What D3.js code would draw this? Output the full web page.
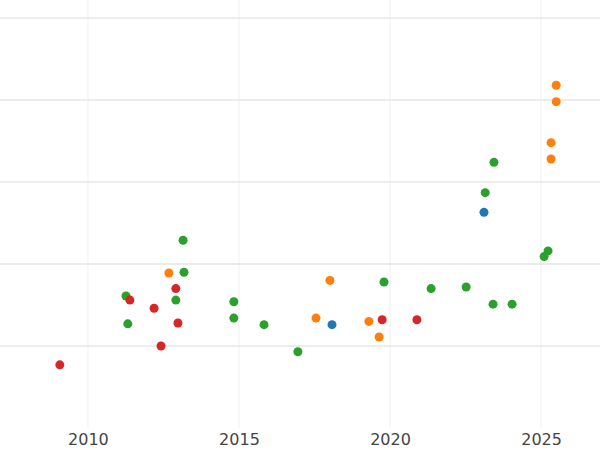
<!DOCTYPE html>
<html><head><meta charset="utf-8">
<script src="https://cdn.jsdelivr.net/npm/d3@7"></script>
<style>body{margin:0;background:#fff}</style>
</head><body>
<div id="chart"></div>
<script>
var groups = ["blue", "orange", "green", "red"];
var colors = ["#1f77b4", "#ff7f0e", "#2ca02c", "#d62728"];

var redYears = [2009.07, 2011.39, 2012.19, 2012.42, 2012.91, 2012.98, 2019.74, 2020.89];
var redValues = [0.77, 1.56, 1.46, 1.0, 1.70, 1.28, 1.32, 1.32];
var greenYears = [2011.26, 2011.32, 2012.91, 2013.15, 2013.18, 2014.83, 2014.83, 2015.83, 2016.95, 2019.80, 2021.36, 2022.52, 2023.15, 2023.41, 2023.44, 2024.04, 2025.10, 2025.23];
var greenValues = [1.61, 1.27, 1.56, 2.29, 1.90, 1.54, 1.34, 1.26, 0.93, 1.78, 1.70, 1.72, 2.87, 1.51, 3.24, 1.51, 2.09, 2.16];
var orangeYears = [2012.68, 2017.55, 2018.01, 2019.30, 2019.64, 2025.33, 2025.33, 2025.50, 2025.50];
var orangeValues = [1.89, 1.34, 1.80, 1.30, 1.11, 3.48, 3.28, 4.18, 3.98];
var blueYears = [2018.08, 2023.11];
var blueValues = [1.26, 2.63];

var xTicks = [2010, 2015, 2020, 2025];
var yTicks = [1, 2, 3, 4, 5];

var width = 600, height = 450;
var svg = d3.select("#chart").append("svg")
    .attr("width", width)
    .attr("height", height);

var x = d3.scaleLinear().domain([2007.09, 2026.95]).range([0, 600]);
var y = d3.scaleLinear().domain([0, 5]).range([428, 18]);

// gridlines
svg.selectAll(".vgrid").data(xTicks).enter().append("line")
    .attr("x1", function(d) { return x(d); })
    .attr("x2", function(d) { return x(d); })
    .attr("y1", 0).attr("y2", 428)
    .attr("stroke", "#f0f0f0").attr("stroke-width", 1);
svg.selectAll(".hgrid").data(yTicks).enter().append("line")
    .attr("x1", 0).attr("x2", width)
    .attr("y1", function(d) { return y(d); })
    .attr("y2", function(d) { return y(d); })
    .attr("stroke", "#e6e6e6").attr("stroke-width", 1.5);

// x axis
var xAxis = d3.axisBottom(x).tickValues(xTicks).tickFormat(d3.format("d")).tickSize(0).tickPadding(6);
var gx = svg.append("g").attr("transform", "translate(0,428)").call(xAxis);
gx.select(".domain").remove();
gx.selectAll("text").attr("fill", "#444").style("font-size", "16px").style("font-family", "DejaVu Sans, sans-serif");

var seriesYears = [blueYears, orangeYears, greenYears, redYears];
var seriesValues = [blueValues, orangeValues, greenValues, redValues];

groups.forEach(function(g, i) {
    var pts = seriesYears[i].map(function(yr, j) { return {x: yr, v: seriesValues[i][j]}; });
    svg.selectAll(".pt-" + g).data(pts).enter().append("circle")
        .attr("cx", function(d) { return x(d.x); })
        .attr("cy", function(d) { return y(d.v); })
        .attr("r", 4.5)
        .attr("fill", colors[i]);
});
</script>
</body></html>
